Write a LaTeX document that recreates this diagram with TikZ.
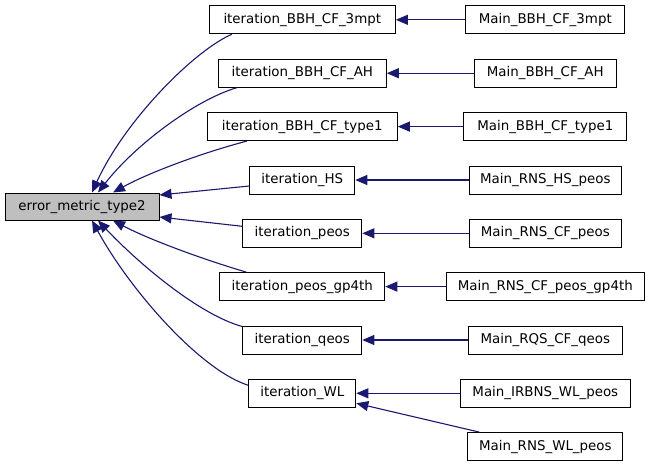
\documentclass[tikz,border=0pt]{standalone}
\usepackage{fontspec}
\setmainfont{DejaVu Sans}
\usetikzlibrary{arrows.meta}
\definecolor{edgeblue}{RGB}{25,25,112}
\definecolor{rootgray}{RGB}{191,191,191}
\tikzset{
  box/.style={draw=black, line width=1pt, fill=white, minimum height=28pt, inner sep=0pt,
              font=\fontsize{13.4}{16}\selectfont, anchor=center},
  edge/.style={draw=edgeblue, line width=1.1pt, -{Triangle[length=12pt,width=10pt]}},
}
\begin{document}
\begin{tikzpicture}[x=1pt,y=-1pt]
\useasboundingbox (0,0) rectangle (651,467);
% root
\node[box, fill=rootgray, minimum width=154pt, minimum height=27pt] (root) at (82,206.5) {error\_metric\_type2};
% middle column
\node[box, minimum width=186pt] (i1) at (302.3,19.8) {iteration\_BBH\_CF\_3mpt};
\node[box, minimum width=168pt] (i2) at (302.3,73.2) {iteration\_BBH\_CF\_AH};
\node[box, minimum width=190pt] (i3) at (302.3,126.6) {iteration\_BBH\_CF\_type1};
\node[box, minimum width=105pt] (i4) at (302.3,180) {iteration\_HS};
\node[box, minimum width=119pt] (i5) at (302.3,233.3) {iteration\_peos};
\node[box, minimum width=165pt] (i6) at (302.3,286.6) {iteration\_peos\_gp4th};
\node[box, minimum width=119pt] (i7) at (302.3,340) {iteration\_qeos};
\node[box, minimum width=107pt] (i8) at (302.3,393.3) {iteration\_WL};
% right column
\node[box, minimum width=159pt] (m1) at (545.3,19.8) {Main\_BBH\_CF\_3mpt};
\node[box, minimum width=142pt] (m2) at (545.3,73.2) {Main\_BBH\_CF\_AH};
\node[box, minimum width=163pt] (m3) at (545.3,126.6) {Main\_BBH\_CF\_type1};
\node[box, minimum width=152pt] (m4) at (545.3,180) {Main\_RNS\_HS\_peos};
\node[box, minimum width=152pt] (m5) at (545.3,233.3) {Main\_RNS\_CF\_peos};
\node[box, minimum width=198pt] (m6) at (545.3,286.6) {Main\_RNS\_CF\_peos\_gp4th};
\node[box, minimum width=154pt] (m7) at (545.3,340) {Main\_RQS\_CF\_qeos};
\node[box, minimum width=170pt] (m8) at (545.3,393.3) {Main\_IRBNS\_WL\_peos};
\node[box, minimum width=155pt] (m9) at (545.3,446.6) {Main\_RNS\_WL\_peos};
% edges middle -> root
\draw[edge] ([xshift=23pt]i1.south west) .. controls (195,50) and (125,120) .. ([xshift=10pt]root.north);
\draw[edge] ([xshift=19pt]i2.south west) .. controls (195,100) and (135,145) .. ([xshift=16pt]root.north);
\draw[edge] ([xshift=40pt]i3.south west) .. controls (205,152) and (150,172) .. ([xshift=31pt]root.north);
\draw[edge] ([yshift=-6pt]i4.west) -- ([yshift=11.5pt]root.east);
\draw[edge] ([yshift=7pt]i5.west) -- ([yshift=-10.5pt]root.east);
\draw[edge] ([xshift=27pt]i6.north west) .. controls (205,260) and (150,240) .. ([xshift=31pt]root.south);
\draw[edge] ([yshift=-1pt]i7.north west) .. controls (200,315) and (140,265) .. ([xshift=16pt]root.south);
\draw[edge] ([yshift=8pt]i8.west) .. controls (200,370) and (130,290) .. ([xshift=10pt]root.south);
% edges right -> middle
\draw[edge] (m1.west) -- (i1.east);
\draw[edge] (m2.west) -- (i2.east);
\draw[edge] (m3.west) -- (i3.east);
\draw[edge] (m4.west) -- (i4.east);
\draw[edge] (m5.west) -- (i5.east);
\draw[edge] (m6.west) -- (i6.east);
\draw[edge] (m7.west) -- (i7.east);
\draw[edge] (m8.west) -- (i8.east);
\draw[edge] ([xshift=12pt]m9.north west) -- ([yshift=-10pt]i8.east);
\end{tikzpicture}
\end{document}
